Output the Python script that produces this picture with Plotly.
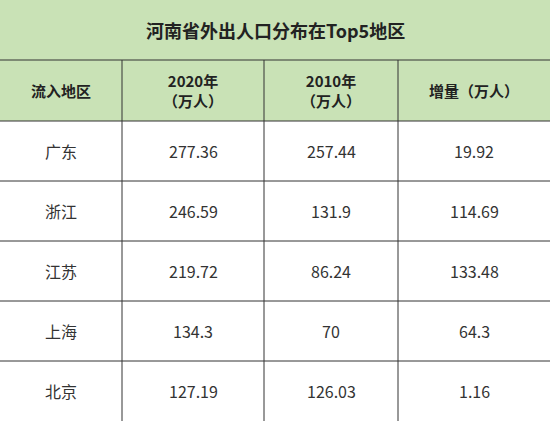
import plotly.graph_objects as go

title = "河南省外出人口分布在Top5地区"
headers = ["流入地区", "2020年<br>（万人）", "2010年<br>（万人）", "增量（万人）"]
regions = ["广东", "浙江", "江苏", "上海", "北京"]
v2020 = ["277.36", "246.59", "219.72", "134.3", "127.19"]
v2010 = ["257.44", "131.9", "86.24", "70", "126.03"]
delta = ["19.92", "114.69", "133.48", "64.3", "1.16"]

W, H = 550, 421
cols = [0, 122, 264, 398, 550]
rows = [0, 60, 121, 181, 241, 301, 361, 421]
green = "#c9e2b6"
line = "#333333"
font = "Noto Sans CJK SC"

fig = go.Figure()
shapes = []
ann = []
shapes.append(dict(type="rect", x0=0, x1=W, y0=0, y1=rows[2], fillcolor=green, line_width=0, layer="below"))
for y in rows[1:-1]:
    shapes.append(dict(type="line", x0=0, x1=W, y0=y, y1=y, line=dict(color=line, width=1)))
for x in cols[1:-1]:
    shapes.append(dict(type="line", x0=x, x1=x, y0=rows[1], y1=H, line=dict(color=line, width=1)))

ann.append(dict(x=W/2, y=30, text="<b>"+title+"</b>", font=dict(size=18, color="#222", family=font)))
for i, h in enumerate(headers):
    ann.append(dict(x=(cols[i]+cols[i+1])/2, y=(rows[1]+rows[2])/2, text="<b>"+h+"</b>",
                    font=dict(size=15, color="#222", family=font)))
for r in range(5):
    yc = (rows[r+2]+rows[r+3])/2
    for c, val in enumerate([regions[r], v2020[r], v2010[r], delta[r]]):
        ann.append(dict(x=(cols[c]+cols[c+1])/2, y=yc, text=val,
                        font=dict(size=16, color="#333", family=font)))
for a in ann:
    a.update(xref="x", yref="y", showarrow=False, xanchor="center", yanchor="middle")

fig.update_layout(width=W, height=H, margin=dict(l=0, r=0, t=0, b=0),
                  paper_bgcolor="white", plot_bgcolor="white",
                  shapes=shapes, annotations=ann,
                  xaxis=dict(range=[0, W], visible=False, fixedrange=True),
                  yaxis=dict(range=[H, 0], visible=False, fixedrange=True))
fig.write_html("out.html", config={"displayModeBar": False},
               post_script="document.body.style.margin='0';document.body.style.overflow='hidden';")
